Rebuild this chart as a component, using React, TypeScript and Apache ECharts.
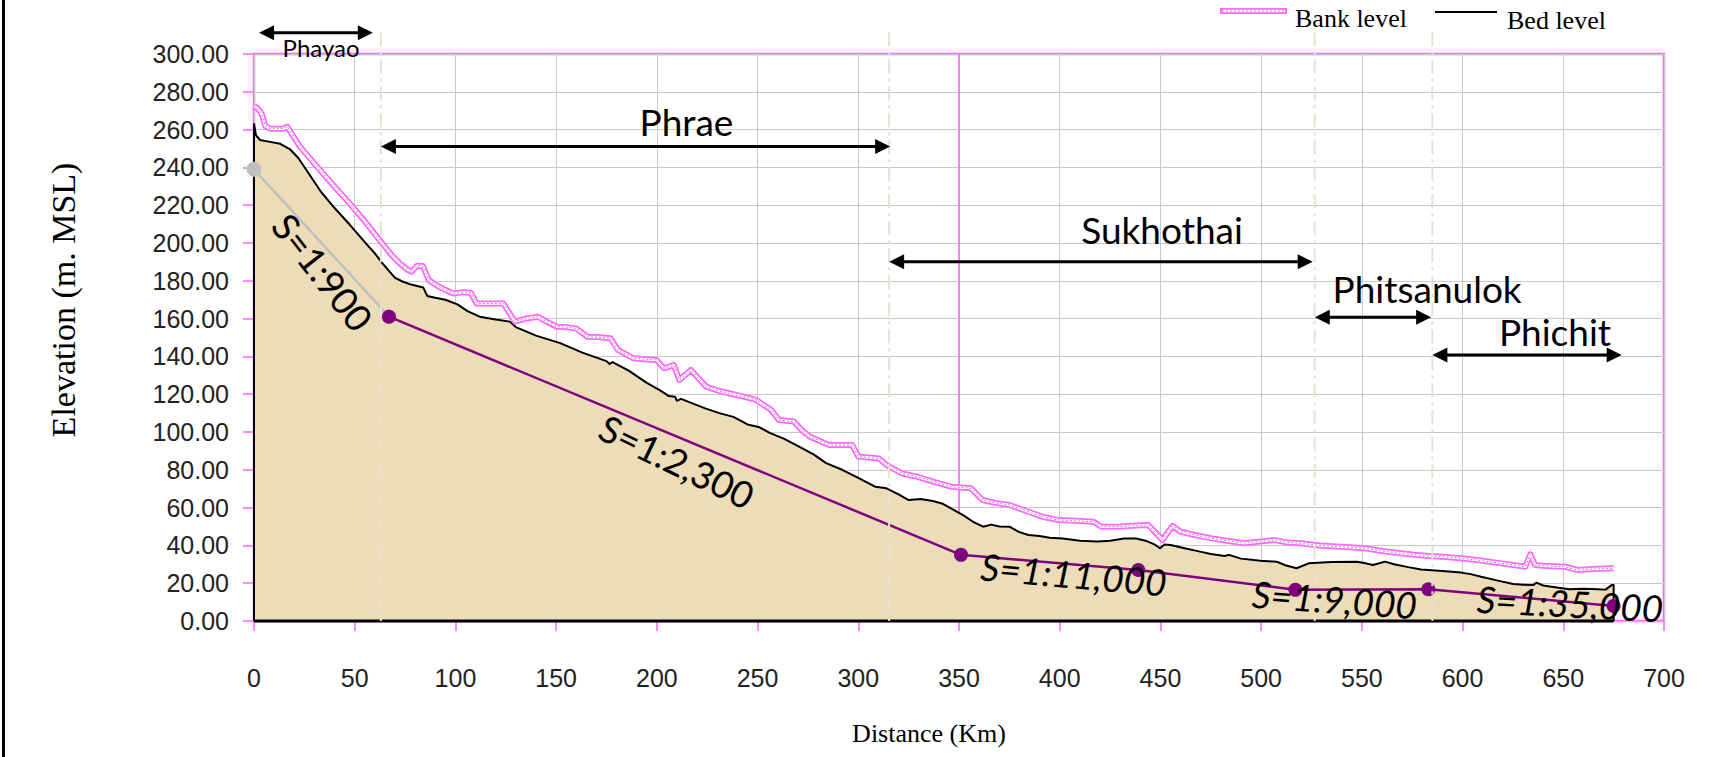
import React, { useEffect, useRef } from "react";
import * as echarts from "echarts";

// River bed profile (distance in km, elevation in m MSL)
const bedKm = [0, 0, 1, 3, 8, 13, 18, 22, 27, 33, 40, 47.7, 55, 60, 64, 70, 74, 78, 84, 86, 90, 95, 101, 106, 112, 120, 127, 130, 140, 152, 163, 175, 176.5, 178, 186, 195, 201.6, 206, 209, 210, 212, 224, 231, 238, 245, 251, 256, 263, 272, 278, 284, 292, 299, 305, 308.5, 314, 320, 325, 331, 337, 342, 346, 352, 357, 362, 366, 370, 375, 380, 384.5, 390, 395, 401.6, 410, 418.7, 425, 432, 437.9, 442.6, 447, 449.8, 452, 455, 462, 469.7, 475, 481.8, 484, 490, 499.7, 507.7, 512, 517.6, 523.6, 535, 547.5, 552, 555.5, 561.5, 566, 573, 579.4, 590, 599.3, 604, 609.2, 617, 625.1, 630, 635, 636.7, 640, 645, 653, 660, 667, 671, 674, 675, 675];
const bedElev = [0, 263, 257, 254.5, 253.5, 252.5, 249.5, 245, 237, 227.5, 218.5, 209.5, 200.5, 194.5, 189, 181.5, 179.5, 178, 176.5, 172, 171, 170, 167.5, 164, 161, 159.5, 158.4, 155.5, 151, 147, 142, 137.5, 136, 137, 132.5, 126, 122, 119, 118.7, 116.5, 117.5, 112.5, 110, 108, 104, 102.5, 99.5, 96.5, 91.5, 88, 83.5, 80, 76.3, 73, 71, 70.2, 67, 64, 64.5, 63.5, 62, 59.6, 56, 52.5, 49.9, 51, 50, 49.9, 47, 45.5, 45, 44, 43.7, 42.5, 42, 42.5, 43.7, 43.7, 42.5, 40.5, 38.5, 40.5, 40.2, 38.5, 36.7, 35.5, 34.4, 35, 33, 31.9, 31.4, 29.5, 27.9, 30.5, 31.2, 31.4, 30.5, 29.6, 31.4, 30, 28.5, 27.3, 26.5, 25.6, 24.8, 23.4, 21.5, 19.6, 19.2, 19, 20.3, 18.8, 18, 16.8, 17, 16.8, 16.6, 19, 19, 0];

// Bank level profile
const bankKm = [0, 2, 4, 5.5, 8, 14.5, 16.5, 22.8, 30, 39, 47, 55, 62, 68, 72.4, 76, 78.2, 81, 83.9, 86.7, 90, 93.3, 99, 104, 107.6, 110.5, 117, 123.8, 129.5, 135, 140.9, 145, 150.4, 155, 159.9, 165.6, 171, 177, 180.7, 188.4, 194, 199.8, 203.6, 208.4, 211.2, 216.9, 224.5, 230, 235.8, 242, 249.3, 256.8, 260.6, 268, 272, 276, 285.5, 297, 300, 310.3, 314.1, 321.7, 329.4, 338, 346.5, 356, 361.7, 368, 375, 384.5, 392, 399.7, 408, 416.8, 420.6, 430, 438, 444, 451, 456, 460, 467, 475.7, 483, 491.7, 499, 506.7, 513, 519.7, 529, 539.6, 551.5, 560, 569.4, 576, 583.3, 590, 599.3, 609, 619.2, 626, 631.2, 633.6, 636, 640, 645, 651, 657, 665, 675];
const bankElev = [272.5, 271, 268, 262, 260.5, 260.5, 261.5, 251, 242, 231, 221.5, 211.5, 202, 194, 189.2, 186, 184.8, 188, 187.8, 180.4, 178, 176, 173.3, 174, 173.7, 168, 168, 168, 158.4, 160, 161, 158.5, 155.7, 155.5, 154.8, 150.4, 150.2, 149.6, 143.4, 139, 138.5, 138.1, 133.7, 135.4, 127.5, 132.8, 124, 122, 120.5, 119, 117, 111.6, 106.3, 105.5, 101, 97.5, 93.1, 93.1, 87, 86, 82.5, 78.1, 76.3, 73.5, 71, 70.2, 64, 62.5, 61.4, 57.8, 55, 53.4, 53, 52.5, 49.9, 50, 50.5, 50.8, 42.9, 50.3, 47.2, 45.5, 43.7, 42.5, 41.1, 42, 42.9, 41.5, 41.1, 40, 39.3, 38.5, 37, 35.8, 35, 34.4, 34, 33.2, 32, 30.5, 29.5, 28.7, 35.3, 29.6, 29.2, 29, 28.7, 27, 27.5, 27.9];

// Average-slope segments
const steepKm = [0, 67];
const steepElev = [239, 161];
const slopeKm = [67, 351, 439, 517, 583, 675];
const slopeElev = [161, 35, 27, 16.5, 16.8, 8];
const slopeTexts = ["S=1:900", "S=1:2,300", "S=1:11,000", "S=1:9,000", "S=1:35,000"];

// Province reaches along the river
const provinceNames = ["Phayao", "Phrae", "Sukhothai", "Phitsanulok", "Phichit"];
const provinceFromKm = [2.5, 63, 315.3, 526.6, 585];
const provinceToKm = [59, 315.8, 525.6, 584.4, 679];
const boundaryKm = [63, 315.3, 526.6, 585];

// Axis ranges
const xMax = 700;
const xStep = 50;
const yMax = 300;
const yStep = 20;

// Label placement (km, elevation, rotation in degrees, italic)
const provinceLayout = [
  { arrowElev: 311.3, km: 33.3, elev: 303.2, size: 24 },
  { arrowElev: 251, km: 214.7, elev: 264.3, size: 37 },
  { arrowElev: 190.1, km: 450.8, elev: 206.9, size: 37 },
  { arrowElev: 160.7, km: 582.4, elev: 175.7, size: 37 },
  { arrowElev: 140.7, km: 645.9, elev: 153.4, size: 37 },
];
const slopeLayout = [
  { km: 34.3, elev: 184.7, rot: -52, italic: false },
  { km: 210, elev: 84.6, rot: -26, italic: false },
  { km: 407, elev: 24.9, rot: -5, italic: true },
  { km: 536.5, elev: 11.6, rot: -4, italic: true },
  { km: 653.4, elev: 9.5, rot: -3, italic: true },
];

const W = 1729;
const H = 757;
const PINK = "#ff66ff";
const ANNOT_FONT = "Lato, 'Open Sans', sans-serif";
const SERIF = "'Liberation Serif', 'Times New Roman', serif";

const zip = (xs: number[], ys: number[]) => xs.map((x, i) => [x, ys[i]]);

export default function App() {
  const ref = useRef<HTMLDivElement>(null);

  useEffect(() => {
    if (!ref.current) return;
    const chart = echarts.init(ref.current, null, { renderer: "svg" });

    const bed = zip(bedKm, bedElev);
    const bank = zip(bankKm, bankElev);
    const steep = zip(steepKm, steepElev);
    const slope = zip(slopeKm, slopeElev);
    const bedEnd = bedKm[bedKm.length - 1];

    chart.setOption({
      animation: false,
      backgroundColor: "#ffffff",
      grid: {
        left: 254,
        right: W - 1664,
        top: 54,
        bottom: H - 621,
        show: true,
        borderColor: PINK,
        borderWidth: 2.5,
      },
      xAxis: {
        type: "value",
        min: 0,
        max: xMax,
        interval: xStep,
        axisLine: { show: false },
        axisTick: { show: true, length: 10, lineStyle: { color: PINK, width: 1.5 } },
        axisLabel: {
          margin: 44,
          fontSize: 25,
          color: "#222",
          fontFamily: "'Liberation Sans', Arial, sans-serif",
        },
        splitLine: { show: true, lineStyle: { color: "#c8c8c8", width: 1 } },
      },
      yAxis: {
        type: "value",
        min: 0,
        max: yMax,
        interval: yStep,
        axisLine: { show: false },
        axisTick: { show: true, length: 11, lineStyle: { color: PINK, width: 1.5 } },
        axisLabel: {
          margin: 25,
          fontSize: 25,
          color: "#222",
          fontFamily: "'Liberation Sans', Arial, sans-serif",
          formatter: (v: number) => v.toFixed(2),
        },
        splitLine: { show: true, lineStyle: { color: "#c8c8c8", width: 1 } },
      },
      series: [
        {
          name: "350 km marker",
          type: "line",
          data: [[350, 0], [350, yMax]],
          symbol: "none",
          lineStyle: { color: PINK, width: 1.5 },
          silent: true,
          z: 1,
        },
        {
          name: "Bed level",
          type: "line",
          data: bed,
          symbol: "none",
          clip: false,
          lineStyle: { color: "#000", width: 2, join: "round" },
          areaStyle: { color: "#ecdcb7", opacity: 1 },
          z: 2,
        },
        {
          name: "Bed base",
          type: "line",
          data: [[0, 0], [bedEnd, 0]],
          symbol: "none",
          clip: false,
          lineStyle: { color: "#000", width: 3 },
          z: 2,
        },
        {
          name: "Bank level",
          type: "line",
          data: bank,
          symbol: "none",
          lineStyle: { color: PINK, width: 6, join: "round" },
          z: 3,
        },
        {
          name: "Bank core",
          type: "line",
          data: bank,
          symbol: "none",
          lineStyle: { color: "#ffffff", width: 2.5, join: "round" },
          z: 3,
        },
        {
          name: "Bank dots",
          type: "line",
          data: bank,
          symbol: "none",
          lineStyle: { color: "#9a9a9a", width: 1, type: [2, 2] },
          z: 3,
        },
        {
          name: "Upper slope",
          type: "line",
          data: steep,
          symbol: "circle",
          symbolSize: 15,
          itemStyle: { color: "#c0c0c0" },
          lineStyle: { color: "#c0c0c0", width: 2.5 },
          clip: false,
          z: 4,
        },
        {
          name: "Average slope",
          type: "line",
          data: slope,
          symbol: "circle",
          symbolSize: 14,
          itemStyle: { color: "#800080" },
          lineStyle: { color: "#800080", width: 2.5 },
          clip: false,
          z: 5,
        },
      ],
    });

    const px = (km: number, m: number) =>
      chart.convertToPixel({ gridIndex: 0 }, [km, m]) as number[];

    const elements: any[] = [];

    // frame line at the left edge
    elements.push({
      type: "rect",
      shape: { x: 2, y: 0, width: 3, height: H },
      style: { fill: "#000" },
      z: 100,
    });

    // reach boundaries (dash-dot)
    const bottomY = px(0, 0)[1];
    const topY = px(0, 311.5)[1];
    boundaryKm.forEach((km) => {
      const x = px(km, 0)[0];
      elements.push({
        type: "line",
        shape: { x1: x, y1: topY, x2: x, y2: bottomY },
        style: { stroke: "#e6e1d2", lineWidth: 2, lineDash: [14, 5, 3, 5] },
        z: 100,
      });
    });

    // province arrows and names
    provinceNames.forEach((name, i) => {
      const lay = provinceLayout[i];
      const [x1, y] = px(provinceFromKm[i], lay.arrowElev);
      const x2 = px(provinceToKm[i], lay.arrowElev)[0];
      const hl = 15;
      const hw = 7.5;
      elements.push({
        type: "line",
        shape: { x1: x1 + 4, y1: y, x2: x2 - 4, y2: y },
        style: { stroke: "#000", lineWidth: 3 },
        z: 110,
      });
      elements.push({
        type: "polygon",
        shape: { points: [[x1, y], [x1 + hl, y - hw], [x1 + hl, y + hw]] },
        style: { fill: "#000" },
        z: 110,
      });
      elements.push({
        type: "polygon",
        shape: { points: [[x2, y], [x2 - hl, y - hw], [x2 - hl, y + hw]] },
        style: { fill: "#000" },
        z: 110,
      });
      const [tx, ty] = px(lay.km, lay.elev);
      elements.push({
        type: "text",
        x: tx,
        y: ty,
        style: {
          text: name,
          fill: "#000",
          fontSize: lay.size,
          fontFamily: ANNOT_FONT,
          align: "center",
          verticalAlign: "middle",
          textAlign: "center",
          textVerticalAlign: "middle",
        },
        z: 120,
      });
    });

    // slope labels
    slopeTexts.forEach((t, i) => {
      const lay = slopeLayout[i];
      const [tx, ty] = px(lay.km, lay.elev);
      elements.push({
        type: "text",
        x: tx,
        y: ty,
        rotation: (lay.rot * Math.PI) / 180,
        style: {
          text: t,
          fill: "#000",
          fontSize: 37,
          fontStyle: lay.italic ? "italic" : "normal",
          fontFamily: ANNOT_FONT,
          align: "center",
          verticalAlign: "middle",
          textAlign: "center",
          textVerticalAlign: "middle",
        },
        z: 120,
      });
    });

    // axis titles
    elements.push({
      type: "text",
      x: 63,
      y: 300,
      rotation: Math.PI / 2,
      style: {
        text: "Elevation (m. MSL)",
        fill: "#000",
        fontSize: 34,
        fontFamily: SERIF,
        align: "center",
        verticalAlign: "middle",
        textAlign: "center",
        textVerticalAlign: "middle",
      },
      z: 120,
    });
    elements.push({
      type: "text",
      x: 929,
      y: 733,
      style: {
        text: "Distance (Km)",
        fill: "#000",
        fontSize: 26,
        fontFamily: SERIF,
        align: "center",
        verticalAlign: "middle",
        textAlign: "center",
        textVerticalAlign: "middle",
      },
      z: 120,
    });

    // legend
    elements.push({
      type: "rect",
      shape: { x: 1220, y: 8, width: 67, height: 6 },
      style: { fill: PINK },
      z: 120,
    });
    elements.push({
      type: "line",
      shape: { x1: 1222, y1: 11, x2: 1285, y2: 11 },
      style: { stroke: "#ffffff", lineWidth: 2.5 },
      z: 121,
    });
    elements.push({
      type: "line",
      shape: { x1: 1222, y1: 11, x2: 1285, y2: 11 },
      style: { stroke: "#9a9a9a", lineWidth: 1, lineDash: [2, 2] },
      z: 122,
    });
    elements.push({
      type: "text",
      x: 1295,
      y: 18,
      style: {
        text: "Bank level",
        fill: "#000",
        fontSize: 26,
        fontFamily: SERIF,
        align: "left",
        verticalAlign: "middle",
        textAlign: "left",
        textVerticalAlign: "middle",
      },
      z: 120,
    });
    elements.push({
      type: "line",
      shape: { x1: 1435, y1: 12, x2: 1497, y2: 12 },
      style: { stroke: "#000", lineWidth: 2 },
      z: 120,
    });
    elements.push({
      type: "text",
      x: 1507,
      y: 20,
      style: {
        text: "Bed level",
        fill: "#000",
        fontSize: 26,
        fontFamily: SERIF,
        align: "left",
        verticalAlign: "middle",
        textAlign: "left",
        textVerticalAlign: "middle",
      },
      z: 120,
    });

    chart.setOption({ graphic: elements });

    return () => chart.dispose();
  }, []);

  return (
    <div
      ref={ref}
      style={{ position: "fixed", left: 0, top: 0, width: W, height: H, background: "#fff" }}
    />
  );
}
